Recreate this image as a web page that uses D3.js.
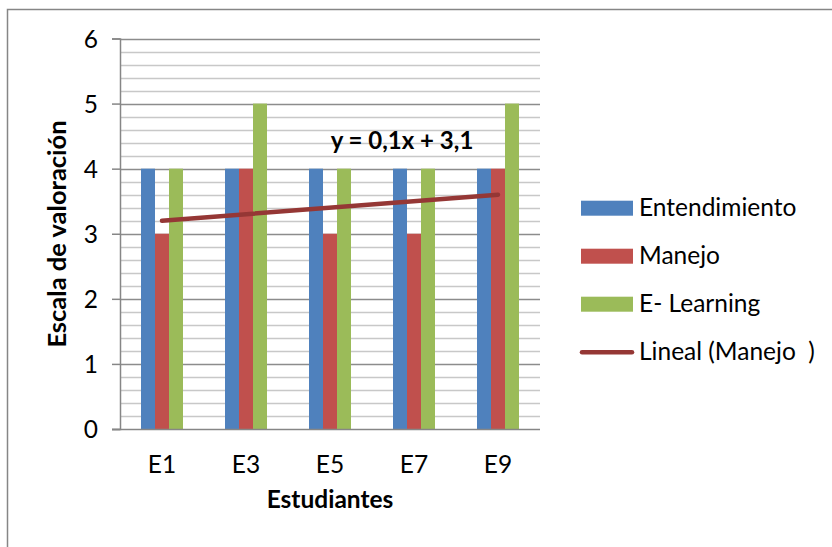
<!DOCTYPE html>
<html><head><meta charset="utf-8">
<script src="https://cdn.jsdelivr.net/npm/d3@7"></script>
<style>body{margin:0;background:#fff}svg{display:block}</style>
</head><body>
<script>
const categories = ["E1","E3","E5","E7","E9"];
const seriesNames = ["Entendimiento","Manejo","E- Learning"];
const entendimiento = [4,4,4,4,4];
const manejo = [3,4,3,3,4];
const eLearning = [4,5,4,4,5];
const yTicks = [0,1,2,3,4,5,6];
const trendLabel = "Lineal (Manejo  )";
const equation = "y = 0,1x + 3,1";
const colors = ["#4F81BD","#C0504D","#9BBB59"];
const trendColor = "#953735";

(function(){
const W = 832, H = 547;
const svg = d3.select("body").append("svg").attr("width",W).attr("height",H);
svg.append("rect").attr("width",W).attr("height",H).attr("fill","#fff");
svg.append("path").attr("d","M7.5,560 L7.5,9.5 L840,9.5").attr("fill","none").attr("stroke","#868686").attr("stroke-width",1.5);

const pL=120, pR=540, pT=38.5, pB=429;
const x = d3.scaleBand().domain(categories).range([pL,pR]);
const y = d3.scaleLinear().domain([0,6]).range([pB,pT]);
const calibri = "Lato, 'Open Sans', sans-serif";

const minor = d3.range(1,30).map(d=>d/5).filter(v=>Math.abs(v-Math.round(v))>1e-6);
svg.append("g").selectAll("line").data(minor).join("line")
  .attr("x1",pL).attr("x2",pR).attr("y1",d=>Math.round(y(d))+0.5).attr("y2",d=>Math.round(y(d))+0.5)
  .attr("stroke","#c8c8c8").attr("stroke-width",1.5);
svg.append("g").selectAll("line").data(yTicks.slice(1)).join("line")
  .attr("x1",pL).attr("x2",pR).attr("y1",d=>Math.round(y(d))+0.5).attr("y2",d=>Math.round(y(d))+0.5)
  .attr("stroke","#8c8c8c").attr("stroke-width",1.5);

const data = [entendimiento, manejo, eLearning];
const gw = x.bandwidth()/2;
const sx = d3.scaleBand().domain(d3.range(3)).range([0,gw]);
data.forEach((vals,si)=>{
  svg.append("g").selectAll("rect").data(vals).join("rect")
    .attr("x",(d,i)=>x(categories[i])+x.bandwidth()/4+sx(si))
    .attr("width",sx.bandwidth())
    .attr("y",d=>y(d)).attr("height",d=>y(0)-y(d))
    .attr("fill",colors[si]);
});

const yAxis = d3.axisLeft(y).tickValues(yTicks).tickSize(8).tickPadding(14).tickFormat(d3.format("d"));
const ga = svg.append("g").attr("transform",`translate(${pL},0)`).call(yAxis);
ga.select(".domain").attr("stroke","#868686").attr("stroke-width",1.5);
ga.selectAll(".tick line").attr("stroke","#868686").attr("stroke-width",1.5);
ga.selectAll(".tick text").attr("font-family",calibri).attr("font-size",24.5).attr("fill","#000").attr("dy","0.36em");
svg.append("line").attr("x1",pL-8).attr("x2",pR).attr("y1",pB+0.5).attr("y2",pB+0.5).attr("stroke","#868686").attr("stroke-width",1.5);
const xAxis = d3.axisBottom(x).tickSize(0).tickPadding(0);
const gx = svg.append("g").attr("transform",`translate(0,${pB})`).call(xAxis);
gx.select(".domain").remove();
gx.selectAll(".tick text").attr("font-family",calibri).attr("font-size",24.5).attr("fill","#000").attr("y",44).attr("dy",0);

const xs = manejo.map((d,i)=>i+1);
const mx = d3.mean(xs), my = d3.mean(manejo);
const slope = d3.sum(xs.map((xi,i)=>(xi-mx)*(manejo[i]-my)))/d3.sum(xs.map(xi=>(xi-mx)**2));
const intercept = my - slope*mx;
const c0 = x(categories[0])+x.bandwidth()/2, c1 = x(categories[4])+x.bandwidth()/2;
svg.append("line").attr("x1",c0).attr("x2",c1)
  .attr("y1",y(slope*1+intercept)).attr("y2",y(slope*5+intercept))
  .attr("stroke",trendColor).attr("stroke-width",4.5).attr("stroke-linecap","round");

svg.append("text").attr("x",402).attr("y",149).attr("text-anchor","middle")
  .attr("font-family",calibri).attr("font-weight","bold").attr("font-size",24).text(equation);

svg.append("text").attr("x",(pL+pR)/2).attr("y",508).attr("text-anchor","middle")
  .attr("font-family",calibri).attr("font-weight","bold").attr("font-size",24.5).text("Estudiantes");
svg.append("text").attr("transform",`translate(66,234) rotate(-90)`).attr("text-anchor","middle")
  .attr("font-family",calibri).attr("font-weight","bold").attr("font-size",25.5).text("Escala de valoración");

const legend = [...seriesNames, trendLabel];
const lg = svg.append("g");
legend.forEach((name,i)=>{
  const by = 215.7 + i*48;
  if(i<3){
    lg.append("rect").attr("x",581).attr("y",by-15).attr("width",52).attr("height",15).attr("fill",colors[i]);
  } else {
    lg.append("line").attr("x1",582).attr("x2",632).attr("y1",by-7.5).attr("y2",by-7.5)
      .attr("stroke",trendColor).attr("stroke-width",4.5).attr("stroke-linecap","round");
  }
  lg.append("text").attr("x",639).attr("y",by).attr("font-family",calibri).attr("font-size",24.5).style("white-space","pre").text(name);
});
})();
</script>
</body></html>
